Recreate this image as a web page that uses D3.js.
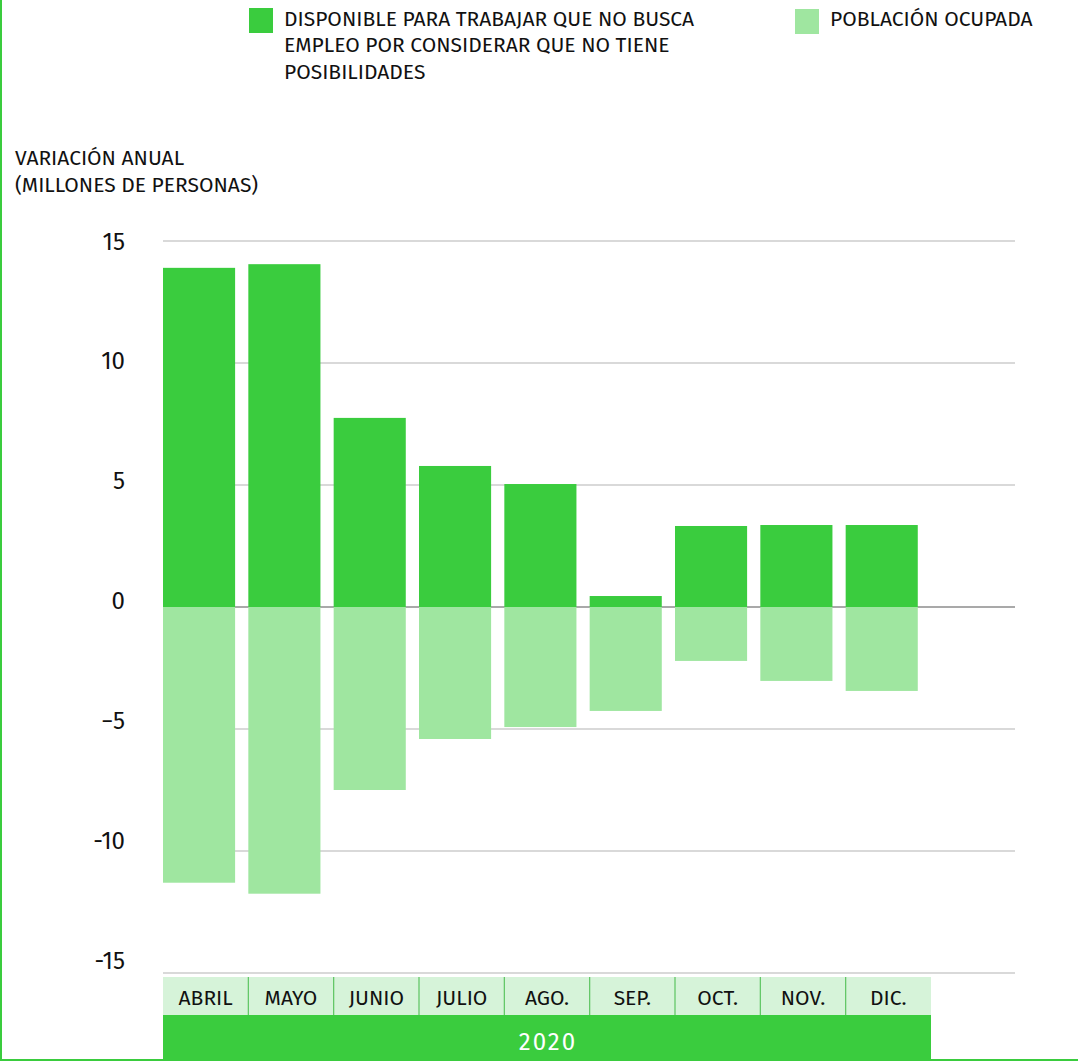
<!DOCTYPE html>
<html><head><meta charset="utf-8">
<script src="https://cdn.jsdelivr.net/npm/d3@7"></script>
<style>
html,body{margin:0;padding:0;background:#fff;}
svg{display:block;font-family:"Fira Sans","Noto Sans","Open Sans",sans-serif;}
</style></head>
<body>
<svg id="c" width="1078" height="1061"></svg>
<script>
const categories = ["ABRIL","MAYO","JUNIO","JULIO","AGO.","SEP.","OCT.","NOV.","DIC."];
const disponible = [13.9, 14.05, 7.75, 5.78, 5.04, 0.45, 3.32, 3.36, 3.36];
const ocupada = [-11.3, -11.75, -7.5, -5.41, -4.92, -4.26, -2.21, -3.03, -3.44];
const yTicks = [15, 10, 5, 0, -5, -10, -15];
const yTickLabels = ["15", "10", "5", "0", "\u22125", "-10", "-15"];
const yearLabel = "2020";
const legendItems = [
  {lines:["DISPONIBLE PARA TRABAJAR QUE NO BUSCA","EMPLEO POR CONSIDERAR QUE NO TIENE","POSIBILIDADES"], color:"#3acc3e"},
  {lines:["POBLACIÓN OCUPADA"], color:"#9fe6a0"}
];
const yTitle = ["VARIACIÓN ANUAL","(MILLONES DE PERSONAS)"];

const DARK = "#3acc3e", LIGHT = "#9fe6a0", CATBG = "#d6f3d9";
const svg = d3.select("#c");

// frame lines
svg.append("line").attr("x1",1).attr("x2",1).attr("y1",0).attr("y2",1061).attr("stroke",DARK).attr("stroke-width",2);
svg.append("line").attr("x1",0).attr("x2",1078).attr("y1",1060).attr("y2",1060).attr("stroke",DARK).attr("stroke-width",2);

const y = d3.scaleLinear().domain([-15, 15]).range([973, 241]);
// tick labels in the original sit on a slightly tighter spacing than the gridlines
const yLab = d3.scaleLinear().domain([-15, 15]).range([960, 241]);
const x = d3.scaleBand().domain(categories).range([163, 931]).paddingInner(0).paddingOuter(0);
const barW = x.bandwidth() * 0.845;

// grid
const g = svg.append("g");
yTicks.forEach((t, i) => {
  g.append("line").attr("x1",163).attr("x2",1015).attr("y1",y(t)).attr("y2",y(t))
    .attr("stroke", t === 0 ? "#8c8c8c" : "#b4b4b4").attr("stroke-width", t===0?1.5:1.2);
  g.append("text").attr("x",125).attr("y",yLab(t)).attr("dy","0.36em").attr("text-anchor","end")
    .attr("font-size",24).attr("fill","#111").text(yTickLabels[i]);
});

// bars
svg.append("g").selectAll("rect.d").data(categories).join("rect")
  .attr("x", d => x(d)).attr("width", barW)
  .attr("y", (d,i) => y(disponible[i])).attr("height", (d,i) => y(0) - y(disponible[i]))
  .attr("fill", DARK);
svg.append("g").selectAll("rect.o").data(categories).join("rect")
  .attr("x", d => x(d)).attr("width", barW)
  .attr("y", y(0)).attr("height", (d,i) => y(ocupada[i]) - y(0))
  .attr("fill", LIGHT);

// category boxes
const cg = svg.append("g");
cg.append("rect").attr("x",163).attr("y",977).attr("width",768).attr("height",38).attr("fill",CATBG);
categories.forEach((c, i) => {
  if (i > 0) cg.append("line").attr("x1",x(c)).attr("x2",x(c)).attr("y1",977).attr("y2",1015)
    .attr("stroke","#5cc460").attr("stroke-width",1.2);
  cg.append("text").attr("x", x(c)+x.bandwidth()/2).attr("y",997).attr("dy","0.36em").attr("text-anchor","middle")
    .attr("font-size",21).attr("fill","#111").text(c);
});
cg.append("rect").attr("x",163).attr("y",1015).attr("width",768).attr("height",45).attr("fill",DARK);
cg.append("text").attr("x",548).attr("y",1041).attr("dy","0.36em").attr("text-anchor","middle").attr("font-size",24)
  .attr("letter-spacing",2).attr("fill","#fff").text(yearLabel);

// y title
yTitle.forEach((l,i) => svg.append("text").attr("x",15).attr("y",157+i*27).attr("dy","0.36em").attr("font-size",21).attr("fill","#111").text(l));

// legend
const lx = [249, 795];
const ly = [8, 9];
legendItems.forEach((it, k) => {
  svg.append("rect").attr("x",lx[k]).attr("y",ly[k]).attr("width",24).attr("height",25).attr("fill",it.color);
  it.lines.forEach((l,i) => svg.append("text").attr("x",lx[k]+35).attr("y",18+i*26.5).attr("dy","0.36em")
    .attr("font-size",21).attr("fill","#111").text(l));
});
</script>
</body></html>
